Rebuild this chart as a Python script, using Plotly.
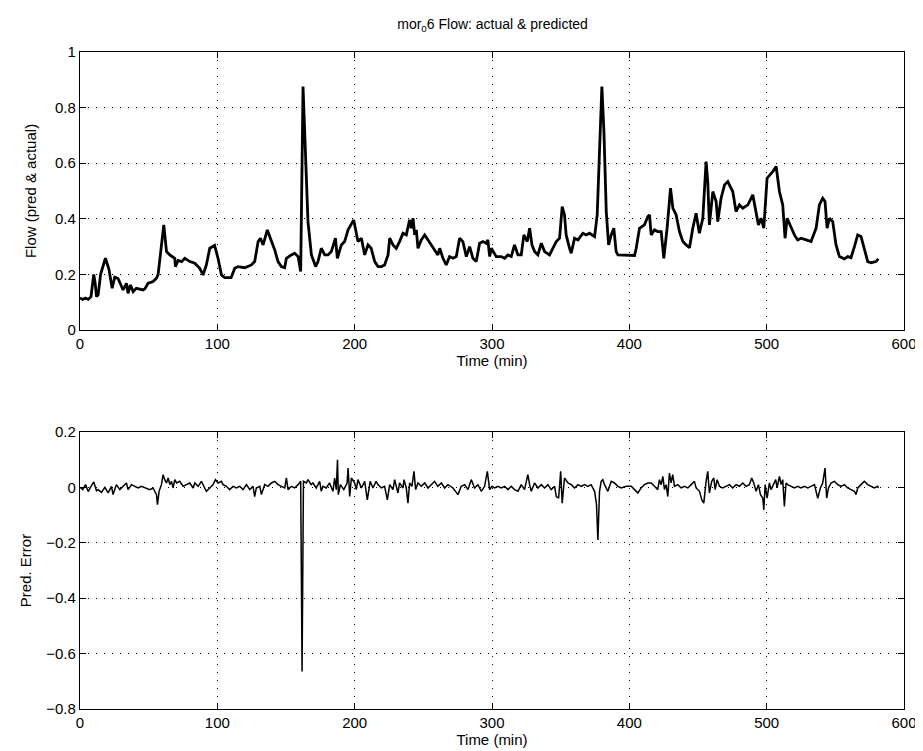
import plotly.graph_objects as go
from plotly.subplots import make_subplots

# ---- Flow (actual & predicted) ----
flow_t = [0, 2, 4, 6, 8, 10, 11, 12, 13.2, 15, 18.5, 21, 23.4, 25.3, 27.7, 31.4, 33.8, 35, 36.7, 38.7,
          41, 46, 47.2, 49.6, 53.2, 55.7, 56.9, 59.3, 61, 63, 65.4, 69, 69.5, 71.4, 74, 76.3, 80, 83.6, 87.2, 89.6,
          92, 94.5, 98, 100.5, 103, 105.4, 110, 112.7, 115, 120, 124.8, 127.2, 129.7, 131.4, 133.3, 136.4, 139.4,
          141.8, 144.2, 146.6, 149, 150.3, 153.9, 156.3, 158.8, 160.7, 162.4, 164.1, 166, 168.5, 171.6, 173.3,
          175.7, 178.2, 180.6, 183, 186, 187.4, 190.3, 192.7, 195.2, 199.3, 202.4, 204.9, 207.3, 209.7, 212,
          214.6, 217, 219.4, 221.8, 224.3, 225.5, 227.9, 230.3, 232.7, 235.2, 237.6, 240, 241.2, 242.5, 243.7,
          244.9, 246.1, 248.5, 251, 253.4, 255.8, 258.2, 260.6, 261.9, 264.3, 266.7, 269.1, 271.6, 274, 276.4,
          278.8, 281.3, 283.7, 286.1, 288.5, 291, 293.4, 295.8, 297, 298.3, 299.5, 303.1, 306.7, 309.2, 311.6,
          314, 316.4, 318.9, 321.3, 323.2, 325.7, 327.4, 329.1, 331, 333.4, 335.9, 338.3, 341.9, 344.4, 346.8,
          349.2, 351.1, 352.8, 354, 356.5, 357.7, 360.1, 362.6, 366.2, 368.6, 371, 374.7, 376.6, 378.3, 380,
          381.5, 383.2, 384.9, 386.8, 388.7, 390.4, 391.7, 399, 403.8, 405, 407.4, 411, 413.5, 414.7, 415.9,
          418.3, 420.7, 423.2, 425.1, 427.5, 430, 431.7, 434.1, 436.5, 439, 441.4, 443.8, 446.2, 448.6, 451,
          453.5, 455.9, 457.1, 458.3, 460.8, 463.2, 464.4, 466.8, 469.3, 471.7, 475.3, 477.7, 480.2, 482.6,
          486.3, 489.9, 492.3, 494, 495.9, 497.9, 500.3, 502.7, 504.4, 506.9, 509.3, 511.7, 513.4, 514.9, 517.8,
          520.2, 522.6, 525, 528.7, 532.3, 536, 538.4, 540.8, 542.5, 544, 545.7, 548.1, 550.5, 553, 556.6, 559,
          561.4, 563.9, 566.3, 568.7, 571.1, 573.6, 576, 579.6, 581.3]
flow_v = [0.115, 0.11, 0.115, 0.11, 0.12, 0.2, 0.17, 0.12, 0.126, 0.2, 0.258, 0.22, 0.15, 0.19, 0.185, 0.144,
          0.168, 0.132, 0.162, 0.138, 0.15, 0.144, 0.148, 0.168, 0.174, 0.186, 0.2, 0.306, 0.378, 0.282, 0.27,
          0.258, 0.228, 0.25, 0.246, 0.258, 0.246, 0.24, 0.222, 0.198, 0.234, 0.294, 0.304, 0.258, 0.198, 0.188,
          0.188, 0.222, 0.228, 0.224, 0.234, 0.246, 0.318, 0.33, 0.306, 0.36, 0.318, 0.288, 0.246, 0.228, 0.224,
          0.258, 0.27, 0.276, 0.264, 0.21, 0.876, 0.654, 0.39, 0.27, 0.228, 0.246, 0.294, 0.27, 0.27, 0.282,
          0.33, 0.258, 0.306, 0.318, 0.36, 0.396, 0.318, 0.33, 0.27, 0.306, 0.294, 0.246, 0.228, 0.228, 0.234,
          0.27, 0.33, 0.306, 0.294, 0.318, 0.348, 0.342, 0.396, 0.366, 0.402, 0.342, 0.36, 0.294, 0.324, 0.342,
          0.324, 0.306, 0.288, 0.27, 0.294, 0.258, 0.234, 0.264, 0.258, 0.264, 0.33, 0.318, 0.264, 0.3, 0.258,
          0.246, 0.312, 0.318, 0.312, 0.324, 0.264, 0.294, 0.264, 0.264, 0.258, 0.27, 0.264, 0.306, 0.27, 0.27,
          0.342, 0.318, 0.366, 0.306, 0.282, 0.27, 0.312, 0.282, 0.27, 0.294, 0.318, 0.33, 0.444, 0.414, 0.342,
          0.294, 0.276, 0.33, 0.324, 0.348, 0.342, 0.348, 0.336, 0.414, 0.654, 0.876, 0.714, 0.426, 0.306,
          0.342, 0.366, 0.282, 0.27, 0.27, 0.268, 0.294, 0.366, 0.378, 0.408, 0.414, 0.342, 0.36, 0.354, 0.354,
          0.258, 0.366, 0.51, 0.438, 0.414, 0.354, 0.318, 0.306, 0.296, 0.366, 0.42, 0.348, 0.402, 0.606,
          0.534, 0.378, 0.498, 0.462, 0.39, 0.474, 0.522, 0.534, 0.498, 0.426, 0.45, 0.438, 0.45, 0.486, 0.42,
          0.378, 0.402, 0.366, 0.546, 0.558, 0.57, 0.588, 0.498, 0.45, 0.33, 0.402, 0.366, 0.342, 0.324, 0.33,
          0.324, 0.318, 0.366, 0.45, 0.474, 0.462, 0.366, 0.402, 0.39, 0.306, 0.264, 0.256, 0.264, 0.26, 0.3,
          0.342, 0.336, 0.294, 0.246, 0.242, 0.246, 0.256]

# ---- Prediction error ----
err_t = [0, 2, 4, 6, 8, 10, 12, 13.2, 15.6, 18.1, 20.5, 22.9, 24.1, 26.5, 29, 31.4, 33.8, 35, 37.5, 39.9,
         42.3, 44.7, 47.2, 50.8, 53.2, 55.7, 56.4, 57.6, 59.3, 60.5, 61.7, 63, 64.2, 65.4, 66.6, 67.8, 69, 70.3,
         72.6, 75.1, 77.5, 79.9, 82.4, 83.6, 86, 88.4, 90.8, 92, 94.5, 96.9, 98.6, 100.5, 103, 104.2, 106.6,
         109, 111.5, 113.9, 116.3, 118.7, 121.2, 123.6, 126, 127.2, 128.4, 130.9, 132.1, 134.5, 136.9, 139.4,
         141.8, 144.2, 146.6, 149.1, 150.3, 151.5, 153.9, 156.3, 158.8, 160.7, 161.7, 162.7, 164.8, 166, 168.3,
         169.6, 172, 174.5, 175.7, 176.9, 179.3, 181.7, 184.2, 185.4, 186.6, 187.5, 188.1, 189.6, 192.1, 194.5,
         195.2, 196.4, 197.6, 200, 201.2, 202.4, 204.9, 207.3, 209.2, 211.3, 213.3, 215.6, 217, 219.4, 221.8,
         223.8, 225.5, 227.9, 229.1, 231.5, 232.7, 235.2, 235.9, 237.6, 238.8, 240, 241.7, 243.2, 244.4, 246.1,
         248.5, 251, 253.4, 255.8, 258.2, 260.6, 263.1, 265.5, 267.9, 271.6, 274, 275.2, 277.6, 280.1, 282.5,
         284.9, 287.3, 289.8, 292.2, 294.6, 296.6, 298.3, 300, 301.9, 304.3, 306.7, 309.2, 311.6, 314, 316.4,
         318.9, 321.3, 323.7, 326.1, 327.4, 328.6, 331, 333.4, 335.9, 338.3, 340.7, 343.1, 345.6, 346.8, 348.5,
         350, 351.1, 352.8, 355.3, 357.7, 360.1, 362.6, 365, 367.4, 369.8, 372.2, 374.7, 376.1, 377.1, 378.3,
         379.5, 380.7, 381.9, 383.2, 384.4, 386.8, 389.2, 391.7, 394.1, 397.7, 401.4, 403.8, 406.2, 408.6, 411,
         413.5, 416, 418.3, 420.7, 421.9, 423.2, 424.4, 425.6, 426.8, 428, 429.2, 430.4, 431.6, 432.9, 435.3,
         437.7, 440.1, 442.6, 445, 447.4, 448.6, 451.1, 452.8, 454.2, 455.9, 457.1, 458.3, 460, 461.5, 462.5,
         463.9, 465.6, 468, 470.5, 472.9, 475.3, 477.7, 480.2, 482.6, 485, 487.4, 489.1, 490.6, 492.3, 494,
         495.5, 497.2, 497.9, 498.9, 500.3, 502, 503.2, 504.9, 506.6, 507.6, 509.3, 510.5, 511.7, 512.9, 514.1,
         515.3, 517.8, 520.2, 522.6, 525, 527.5, 529.9, 532.3, 534.8, 537.2, 539.1, 540.8, 542.5, 543.7, 545,
         546.9, 549.3, 551.7, 554.2, 556.6, 559, 561.4, 563.9, 565.1, 566.3, 568.7, 571.1, 573.6, 576, 578.4,
         580.8, 581.3]
err_v = [0.0, -0.008, 0.01, -0.015, 0.004, 0.02, -0.012, -0.008, -0.018, 0.0, -0.02, 0.004, -0.026, 0.01,
         -0.008, 0.004, 0.016, -0.008, 0.01, 0.004, -0.002, 0.004, 0.0, -0.008, -0.002, -0.026, -0.062, -0.014,
         0.01, 0.046, 0.028, 0.016, 0.034, 0.01, 0.022, -0.002, 0.028, 0.016, 0.022, 0.004, 0.01, 0.016, -0.002,
         0.016, 0.004, 0.022, -0.002, -0.014, -0.002, 0.01, 0.028, 0.016, 0.022, 0.01, 0.004, -0.008, 0.004,
         -0.002, 0.004, -0.008, 0.01, -0.008, 0.004, -0.033, -0.002, 0.004, -0.026, 0.01, 0.004, 0.016, 0.022,
         0.01, 0.004, -0.002, 0.034, -0.008, 0.004, -0.002, 0.01, 0.022, -0.665, 0.022, 0.016, 0.028, 0.01,
         0.016, -0.002, 0.022, -0.014, 0.004, -0.002, 0.016, -0.014, 0.034, -0.008, 0.1, -0.026, 0.01, -0.008,
         0.016, 0.07, -0.033, 0.034, 0.016, -0.008, 0.028, -0.002, 0.022, -0.045, 0.022, -0.002, 0.022, 0.01,
         -0.002, 0.004, -0.045, 0.01, -0.008, 0.028, -0.02, 0.016, -0.002, 0.028, -0.002, -0.057, 0.016, 0.004,
         0.058, -0.008, 0.016, 0.004, 0.016, -0.002, 0.01, 0.022, 0.004, 0.016, -0.002, 0.01, -0.002, -0.02,
         -0.026, 0.004, 0.01, -0.008, 0.028, -0.002, 0.01, -0.014, 0.004, 0.058, -0.008, 0.004, -0.002, 0.004,
         -0.002, 0.004, -0.008, 0.004, -0.008, -0.014, 0.01, -0.008, 0.046, 0.01, -0.014, 0.016, -0.002, 0.01,
         -0.002, 0.01, -0.008, 0.004, -0.033, -0.039, 0.058, -0.057, 0.034, 0.016, 0.01, -0.002, 0.01, 0.004,
         0.01, 0.004, 0.01, -0.014, -0.062, -0.19, -0.014, 0.022, 0.028, 0.01, -0.002, -0.014, 0.022, 0.016,
         0.004, -0.002, 0.004, 0.004, -0.008, -0.02, -0.002, 0.01, 0.016, 0.016, 0.004, -0.008, 0.028, 0.01,
         0.04, -0.008, 0.01, -0.033, 0.052, 0.016, 0.046, 0.004, 0.01, -0.002, 0.004, -0.002, 0.01, 0.022,
         -0.002, -0.014, -0.045, -0.057, 0.022, 0.058, -0.02, 0.022, 0.034, -0.008, 0.028, 0.004, -0.002, 0.004,
         0.01, -0.002, 0.01, 0.004, 0.016, 0.004, 0.01, 0.034, 0.016, -0.014, 0.01, -0.026, -0.039, -0.081,
         0.01, -0.039, 0.016, -0.008, 0.01, 0.028, -0.002, 0.04, 0.01, 0.028, -0.069, 0.016, 0.01, 0.004,
         -0.002, 0.004, -0.002, 0.004, -0.002, 0.004, 0.01, -0.039, -0.002, 0.016, 0.07, -0.039, -0.002, 0.016,
         0.022, 0.01, 0.004, 0.01, -0.002, -0.008, -0.014, -0.026, -0.002, 0.01, 0.022, 0.01, 0.004, -0.002,
         0.004, -0.002]

x_ticks = [0, 100, 200, 300, 400, 500, 600]
flow_ticks = [0, 0.2, 0.4, 0.6, 0.8, 1]
err_ticks = [-0.8, -0.6, -0.4, -0.2, 0, 0.2]

FONT = "Liberation Sans, Arial, Helvetica, sans-serif"

fig = make_subplots(rows=2, cols=1, vertical_spacing=0.155)

fig.add_trace(go.Scatter(x=flow_t, y=flow_v, mode="lines", name="actual & predicted",
                         line=dict(color="black", width=2.8)), row=1, col=1)
fig.add_trace(go.Scatter(x=err_t, y=err_v, mode="lines", name="prediction error",
                         line=dict(color="black", width=1.5)), row=2, col=1)

axis_common = dict(showline=True, linecolor="black", linewidth=1.3, mirror="allticks",
                   ticks="inside", ticklen=6, tickcolor="black", tickwidth=1.2,
                   showgrid=True, gridcolor="black", griddash="1px,7px", gridwidth=1.2,
                   zeroline=False, tickfont=dict(family=FONT, size=15, color="black"))

for r in (1, 2):
    fig.update_xaxes(range=[0, 600], tickvals=x_ticks, ticktext=[str(v) for v in x_ticks],
                     title=dict(text="Time (min)", font=dict(family=FONT, size=15, color="black"), standoff=2),
                     row=r, col=1, **axis_common)

fig.update_yaxes(range=[0, 1], tickvals=flow_ticks, ticktext=["0", "0.2", "0.4", "0.6", "0.8", "1"],
                 title=dict(text="Flow (pred & actual)", font=dict(family=FONT, size=15, color="black"), standoff=14),
                 row=1, col=1, **axis_common)
fig.update_yaxes(range=[-0.8, 0.2], tickvals=err_ticks,
                 ticktext=["\u22120.8", "\u22120.6", "\u22120.4", "\u22120.2", "0", "0.2"],
                 title=dict(text="Pred. Error", font=dict(family=FONT, size=15, color="black"), standoff=10),
                 row=2, col=1, **axis_common)

fig.update_layout(
    width=923, height=751,
    margin=dict(l=72, r=27, t=44, b=50),
    paper_bgcolor="white", plot_bgcolor="white",
    showlegend=False,
    xaxis=dict(domain=[0, 1]),
    yaxis=dict(domain=[0.5769, 1.0]),
    yaxis2=dict(domain=[0.0, 0.4216]),
    title=dict(text="mor<sub>0</sub>6 Flow: actual & predicted", x=0.525, xanchor="center",
               y=0.985, yanchor="top", font=dict(family=FONT, size=14, color="black")),
)

fig.write_html("out.html")
